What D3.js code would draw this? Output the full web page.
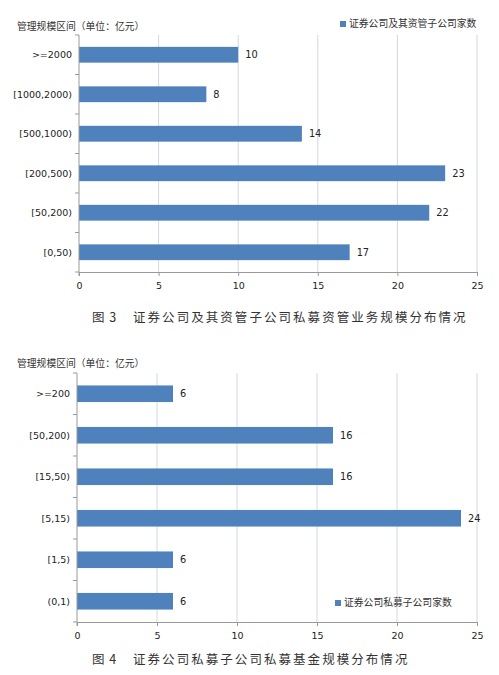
<!DOCTYPE html>
<html>
<head>
<meta charset="utf-8">
<script src="https://cdn.jsdelivr.net/npm/d3@7"></script>
<style>
  body { margin: 0; background: #fff; }
  svg { display: block; }
  .axis text { font-family: "DejaVu Sans", sans-serif; font-size: 9.5px; fill: #222; }
  .axis path, .axis line { stroke: #999; }
  .grid line { stroke: #d3d8e0; }
  .cjk { font-family: "Noto Sans CJK SC", sans-serif; fill: #333; }
</style>
</head>
<body>
<svg id="chart" width="499" height="675"></svg>
<script>
// chart 1: securities firms and asset-management subsidiaries
const cats1 = ['>=2000', '[1000,2000)', '[500,1000)', '[200,500)', '[50,200)', '[0,50)'];
const vals1 = [10, 8, 14, 23, 22, 17];
// chart 2: private fund subsidiaries
const cats2 = ['>=200', '[50,200)', '[15,50)', '[5,15)', '[1,5)', '(0,1)'];
const vals2 = [6, 16, 16, 24, 6, 6];
const xTicks = [0, 5, 10, 15, 20, 25];

const yTitle = '管理规模区间（单位：亿元）';
const legend1 = '证券公司及其资管子公司家数';
const legend2 = '证券公司私募子公司家数';
const fig1 = ['图 3', '证券公司及其资管子公司私募资管业务规模分布情况'];
const fig2 = ['图 4', '证券公司私募子公司私募基金规模分布情况'];

const barColor = '#4f81bd';
const svg = d3.select('#chart');

function drawBars(cfg) {
    const g = svg.append('g');
    const x = d3.scaleLinear().domain([0, 25]).range([cfg.left, cfg.right]);
    const y = d3.scaleBand().domain(cfg.cats).range([cfg.top, cfg.bottom]).paddingInner(0.6).paddingOuter(0.3);
    const yb = d3.scaleBand().domain(cfg.cats).range([cfg.top, cfg.bottom]);

    // vertical gridlines
    g.append('g')
        .attr('class', 'grid')
        .selectAll('line')
        .data(xTicks.slice(1))
        .join('line')
        .attr('x1', d => x(d)).attr('x2', d => x(d))
        .attr('y1', cfg.top).attr('y2', cfg.bottom);

    g.selectAll('.bar')
        .data(cfg.vals)
        .join('rect')
        .attr('class', 'bar')
        .attr('x', x(0))
        .attr('y', (d, i) => y(cfg.cats[i]))
        .attr('width', d => x(d) - x(0))
        .attr('height', y.bandwidth())
        .attr('fill', barColor);

    g.selectAll('.val')
        .data(cfg.vals)
        .join('text')
        .attr('class', 'val')
        .attr('x', d => x(d) + 7)
        .attr('y', (d, i) => y(cfg.cats[i]) + y.bandwidth() / 2)
        .attr('dy', '0.35em')
        .style('font-family', '"DejaVu Sans", sans-serif')
        .style('font-size', '9.8px')
        .attr('fill', '#222')
        .text(d => d);

    // x axis
    g.append('g')
        .attr('class', 'axis')
        .attr('transform', `translate(0,${cfg.bottom})`)
        .call(d3.axisBottom(x).tickValues(xTicks).tickSize(4).tickSizeOuter(0).tickPadding(4))
        .call(a => a.selectAll('text').attr('dy', '0.9em'));

    // y axis: ticks on band boundaries
    const ya = g.append('g').attr('class', 'axis');
    ya.append('line')
        .attr('x1', x(0)).attr('x2', x(0))
        .attr('y1', cfg.top).attr('y2', cfg.bottom + 4);
    ya.selectAll('.tk')
        .data(cfg.cats)
        .join('line')
        .attr('class', 'tk')
        .attr('x1', x(0) - 4).attr('x2', x(0))
        .attr('y1', d => yb(d) + yb.bandwidth()).attr('y2', d => yb(d) + yb.bandwidth());
    ya.append('line')
        .attr('x1', x(0) - 4).attr('x2', x(0))
        .attr('y1', cfg.top).attr('y2', cfg.top);
    ya.selectAll('text')
        .data(cfg.cats)
        .join('text')
        .attr('x', x(0) - 7)
        .attr('y', d => yb(d) + yb.bandwidth() / 2)
        .attr('dy', '0.35em')
        .attr('text-anchor', 'end')
        .text(d => d);

    // axis title
    g.append('text')
        .attr('class', 'cjk')
        .attr('x', 17)
        .attr('y', cfg.titleY)
        .style('font-size', '9.8px')
        .text(yTitle);

    // legend
    g.append('rect')
        .attr('x', cfg.legendX).attr('y', cfg.legendY - 3)
        .attr('width', 6).attr('height', 6)
        .attr('fill', barColor);
    g.append('text')
        .attr('class', 'cjk')
        .attr('x', cfg.legendX + 9)
        .attr('y', cfg.legendY)
        .attr('dy', '0.35em')
        .style('font-size', '9.8px')
        .text(cfg.legend);

    // figure caption
    g.append('text')
        .attr('class', 'cjk')
        .attr('x', 92)
        .attr('y', cfg.captionY)
        .attr('dy', '0.35em')
        .style('font-size', '12.5px')
        .style('letter-spacing', '1px')
        .text(cfg.fig[0]);
    g.append('text')
        .attr('class', 'cjk')
        .attr('x', 133)
        .attr('y', cfg.captionY)
        .attr('dy', '0.35em')
        .style('font-size', '12.5px')
        .style('letter-spacing', '2.05px')
        .text(cfg.fig[1]);
}

drawBars({
    cats: cats1, vals: vals1,
    left: 79, right: 477, top: 35, bottom: 272,
    titleY: 30, legendX: 340, legendY: 24, legend: legend1,
    captionY: 318, fig: fig1
});

drawBars({
    cats: cats2, vals: vals2,
    left: 77, right: 477, top: 373, bottom: 622,
    titleY: 367, legendX: 335, legendY: 603, legend: legend2,
    captionY: 660, fig: fig2
});
</script>
</body>
</html>
